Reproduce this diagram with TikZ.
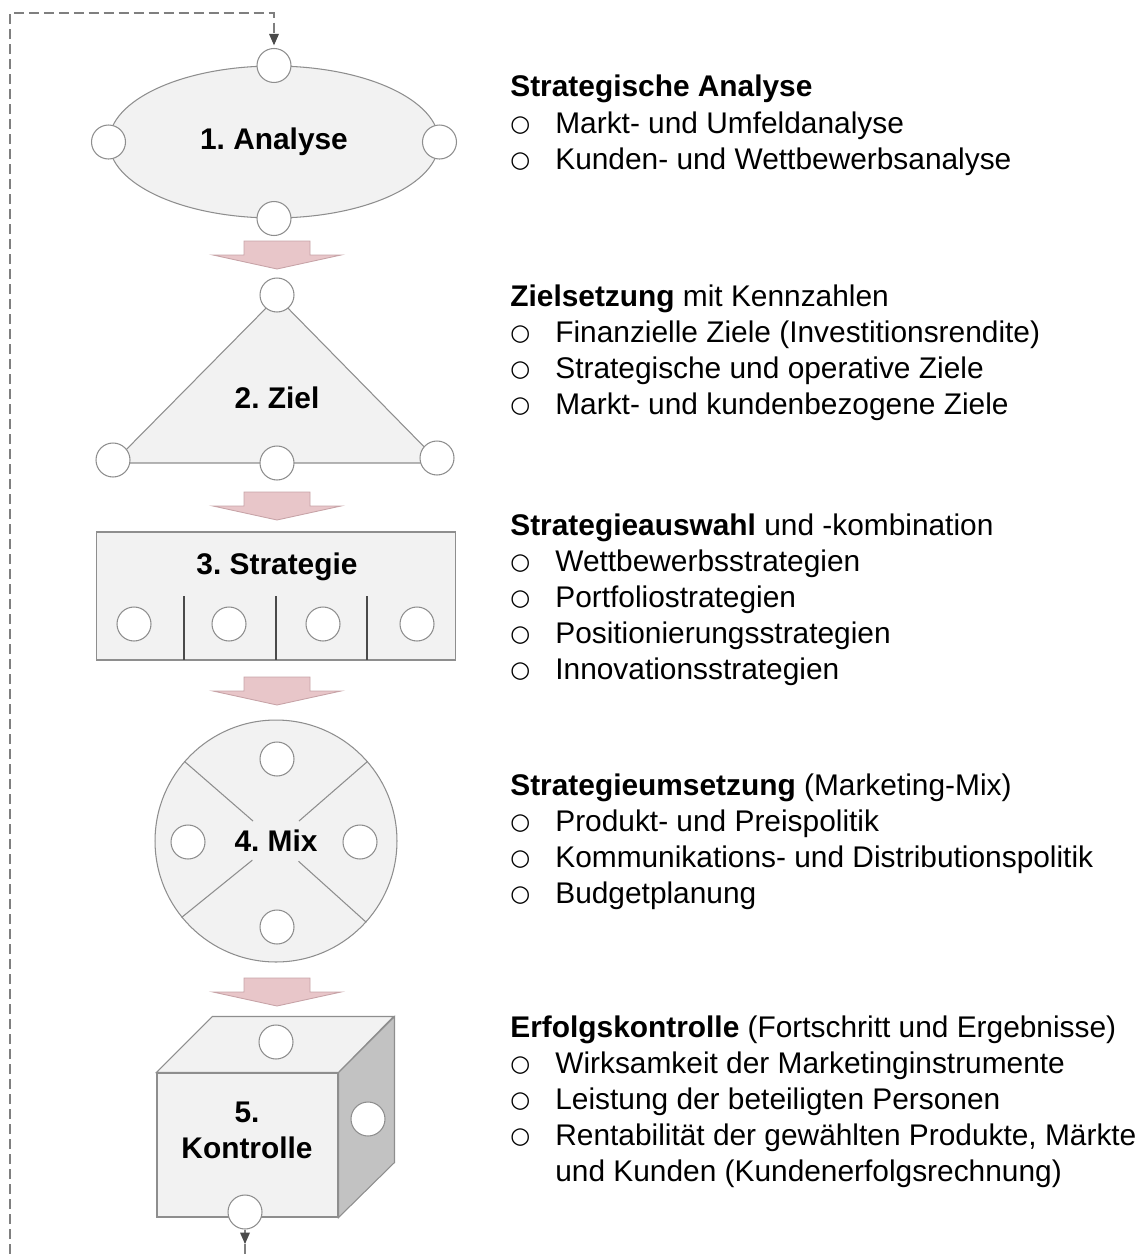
\documentclass[tikz,border=0pt]{standalone}
\usepackage{fontspec}
\setmainfont{Liberation Sans}
\newfontfamily\symfont{DejaVu Sans}
\usepackage{tikz}
\usetikzlibrary{positioning,calc}
\usetikzlibrary{shapes.geometric,arrows.meta}
\definecolor{mygri0}{HTML}{F2F2F2}
\definecolor{mygri1}{HTML}{8E8E8E}
\definecolor{mygri2}{HTML}{C2C2C2}
\definecolor{mygri3}{HTML}{7F7F7F}
\definecolor{mygri4}{HTML}{4A4A4A}
\definecolor{myros1}{HTML}{E8C6C9}
\definecolor{myros2}{HTML}{C7A3A7}
\tikzstyle{shapebox} = [draw=mygri1, fill=mygri0, line width=0.6pt]
\tikzstyle{port} = [circle, minimum size=0.68cm, inner sep=0pt, draw=mygri1, fill=white, line width=0.6pt]
\tikzstyle{shapelabel} = [font=\fontsize{17}{20.5}\selectfont\bfseries, align=center, inner sep=0pt]
\tikzstyle{textblock} = [font=\fontsize{17}{20.5}\selectfont, align=left, anchor=north west, inner sep=0pt]
\tikzstyle{divider} = [draw=mygri4, line width=0.6pt]
\tikzstyle{spoke} = [draw=mygri1, line width=0.6pt]
\tikzstyle{loopline} = [dash pattern=on 0.2cm off 0.1cm, line width=0.7pt, mygri3, -{Triangle[width=5.5pt,length=6.5pt,color=mygri4]}]
\tikzset{flatarrow/.pic={
  \draw[draw=myros2, fill=myros1, line width=0.5pt] (-33,0) -- (33,0) -- (33,14) -- (64,14) -- (0,28) -- (-64,14) -- (-33,14) -- cycle;
}}
\newcommand\bul{\makebox[0.9cm][l]{\raisebox{1pt}{\symfont\fontsize{13}{13}\selectfont ○}}}
\frenchspacing

\begin{document}
\begin{tikzpicture}[x=0.02cm, y=-0.02cm]
	\useasboundingbox (0,0) rectangle (1148,1254);
	% 1. Analyse
	\node (analyse)[ellipse, shapebox, minimum width=6.6cm, minimum height=3.04cm, shapelabel] at (274,142) {1. Analyse};
	\node (a1)[port] at (analyse.north) {};
	\node (a2)[port] at (analyse.west) {};
	\node (a3)[port] at (analyse.east) {};
	\node (a4)[port] at (analyse.south) {};
	% 2. Ziel
	\coordinate (zt) at (277,297);
	\coordinate (zl) at (113,463);
	\coordinate (zr) at (440,463);
	\draw[shapebox] (zt) -- (zr) -- (zl) -- cycle;
	\node (ziel)[shapelabel] at (277,398) {2. Ziel};
	\node (z1)[port] at (277,295) {};
	\node (z2)[port] at (113,460) {};
	\node (z3)[port] at (277,463) {};
	\node (z4)[port] at (437,458) {};
	% 3. Strategie
	\node (strategie)[rectangle, shapebox, minimum width=7.2cm, minimum height=2.56cm] at (276,596) {};
	\node (lblstrategie)[shapelabel] at (277,567) {3. Strategie};
	\foreach \x in {184,276,367}
		\draw[divider] (\x,596) -- (\x,660);
	\foreach \x [count=\i] in {134,229,323,417}
		\node (s\i)[port] at (\x,624) {};
	% 4. Mix
	\node (mix)[circle, shapebox, minimum size=4.84cm, shapelabel] at (276,841) {4. Mix};
	\foreach \a in {41,139,219,318}
		\draw[spoke] ($(mix.center)!0.25!(mix.\a)$) -- (mix.\a);
	\node (m1)[port] at (277,759) {};
	\node (m2)[port] at (188,842) {};
	\node (m3)[port] at (360,842) {};
	\node (m4)[port] at (277,927) {};
	% 5. Kontrolle
	\node (kontrolle)[rectangle, shapebox, minimum width=3.62cm, minimum height=2.88cm] at (247.5,1145) {};
	\draw[shapebox] (kontrolle.north west) -- ++(56,-56) -- ++(181,0) -- (kontrolle.north east) -- cycle;
	\draw[shapebox, fill=mygri2] (kontrolle.north east) -- ++(56,-56) -- ++(0,146) -- (kontrolle.south east) -- cycle;
	\node (lblkontrolle)[shapelabel] at (247,1130) {5.\\Kontrolle};
	\node (k1)[port] at (276,1042) {};
	\node (k2)[port] at (368,1119) {};
	\node (k3)[port] at (245,1212) {};
	% block arrows
	\foreach \y in {241,492,677,978}
		\pic at (277,\y) {flatarrow};
	% feedback loop
	\coordinate (loopfoot) at (10,1254);
	\coordinate (loophead) at (10,13);
	\coordinate (looptip) at (245,1244);
	\coordinate (loopend) at (245,1254);
	\draw[loopline, shorten >=1.5pt] (loopfoot) -- (loophead) -| (a1);
	\draw[loopline] (k3) -- (looptip);
	\draw[loopline, -] (looptip) -- (loopend);
	% texts
	\node (txtanalyse)[textblock] at (510,75) {\textbf{Strategische Analyse}\\ \bul Markt- und Umfeldanalyse\\ \bul Kunden- und Wettbewerbsanalyse};
	\node (txtziel)[textblock] at (510,284) {\textbf{Zielsetzung} mit Kennzahlen\\ \bul Finanzielle Ziele (Investitionsrendite)\\ \bul Strategische und operative Ziele\\ \bul Markt- und kundenbezogene Ziele};
	\node (txtstrategie)[textblock] at (510,513) {\textbf{Strategieauswahl} und -kombination\\ \bul Wettbewerbsstrategien\\ \bul Portfoliostrategien\\ \bul Positionierungsstrategien\\ \bul Innovationsstrategien};
	\node (txtmix)[textblock] at (510,773) {\textbf{Strategieumsetzung} (Marketing-Mix)\\ \bul Produkt- und Preispolitik\\ \bul Kommunikations- und Distributionspolitik\\ \bul Budgetplanung};
	\node (txtkontrolle)[textblock] at (510,1015) {\textbf{Erfolgskontrolle} (Fortschritt und Ergebnisse)\\ \bul Wirksamkeit der Marketinginstrumente\\ \bul Leistung der beteiligten Personen\\ \bul Rentabilität der gewählten Produkte, Märkte\\ \hspace*{0.9cm}und Kunden (Kundenerfolgsrechnung)};
\end{tikzpicture}
\end{document}
